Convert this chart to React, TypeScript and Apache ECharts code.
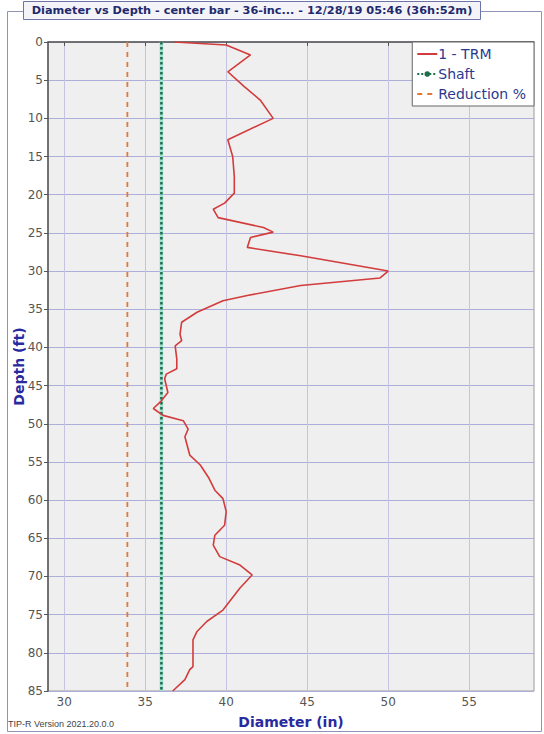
import React, { useEffect, useRef } from 'react';
import * as echarts from 'echarts';

const titleText = 'Diameter vs Depth - center bar - 36-inc... - 12/28/19 05:46 (36h:52m)';
const versionText = 'TIP-R Version 2021.20.0.0';
const seriesNames = ['1 - TRM', 'Shaft', 'Reduction %'];

const depthTicks = [0, 5, 10, 15, 20, 25, 30, 35, 40, 45, 50, 55, 60, 65, 70, 75, 80, 85];
const diameterTicks = [30, 35, 40, 45, 50, 55];
const depthRange = [0, 85];
const diameterRange = [29, 59];

const trmDepth = [0, 0.4, 1.7, 3.9, 5.8, 7.6, 10.0, 12.8, 15.0, 17.6, 19.8, 21.1, 21.9, 23.0, 24.3, 24.9, 25.6, 26.9, 28.0, 30.0, 30.9, 31.9, 33.2, 33.9, 35.4, 36.7, 38.3, 39.1, 39.8, 41.5, 42.8, 43.5, 44.1, 45.9, 47.0, 48.0, 48.9, 49.6, 50.7, 51.7, 54.1, 55.4, 57.0, 58.7, 59.8, 61.5, 63.3, 64.6, 65.9, 67.4, 68.5, 69.8, 71.5, 74.4, 75.9, 77.2, 78.3, 81.8, 82.2, 83.5, 85];
const trmDiameter = [36.8, 40.0, 41.5, 40.1, 41.1, 42.1, 42.9, 40.1, 40.4, 40.5, 40.5, 39.9, 39.2, 39.5, 42.3, 42.9, 41.5, 41.3, 44.6, 50.0, 49.5, 44.6, 41.3, 39.8, 38.2, 37.25, 37.15, 37.25, 36.85, 36.95, 36.95, 36.3, 36.2, 36.4, 36.0, 35.5, 36.1, 37.35, 37.65, 37.45, 37.75, 38.4, 38.9, 39.3, 39.8, 40.0, 39.9, 39.3, 39.2, 39.6, 40.85, 41.6, 40.85, 39.8, 38.8, 38.2, 37.95, 37.95, 37.75, 37.45, 36.7];

const shaftDiameter = [36.0, 36.0];
const reductionDiameter = [33.9, 33.9];
const verticalDepths = [0, 85];

export default function App() {
  const ref = useRef<HTMLDivElement>(null);
  useEffect(() => {
    if (!ref.current) return;
    const chart = echarts.init(ref.current, null, { renderer: 'svg' });
    const font = 'DejaVu Sans';
    const option: any = {
      animation: false,
      backgroundColor: '#ffffff',
      textStyle: { fontFamily: font },
      grid: {
        left: 48, right: 10, top: 42, bottom: 41,
        show: true, backgroundColor: '#efefef', borderColor: '#9a9a9a', borderWidth: 1,
      },
      legend: {
        data: [
          { name: seriesNames[0], itemStyle: { opacity: 0 } },
          { name: seriesNames[1] },
          { name: seriesNames[2], itemStyle: { opacity: 0 } },
        ],
        orient: 'vertical',
        right: 10, top: 42,
        itemWidth: 20, itemHeight: 7, itemGap: 6,
        padding: [5, 8, 5, 4],
        backgroundColor: '#ffffff', borderColor: '#666666', borderWidth: 1,
        textStyle: { color: '#2b3a8f', fontSize: 14, fontFamily: font, padding: [0, 0, 0, -4] },
      },
      xAxis: {
        type: 'value',
        min: diameterRange[0], max: diameterRange[1],
        name: 'Diameter (in)', nameLocation: 'middle', nameGap: 24,
        nameTextStyle: { color: '#2a2aa0', fontSize: 14, fontWeight: 'bold', fontFamily: font },
        axisLine: { show: true, lineStyle: { color: '#555', width: 1.5 } },
        axisTick: { show: true, length: 4, customValues: diameterTicks, lineStyle: { color: '#555' } },
        axisLabel: { customValues: diameterTicks, color: '#555', fontSize: 12, margin: 5 },
        splitLine: { show: true, lineStyle: { color: '#c4c4e2', width: 1 } },
      },
      yAxis: {
        type: 'value', inverse: true,
        min: depthRange[0], max: depthRange[1], interval: 5,
        name: 'Depth (ft)', nameLocation: 'middle', nameGap: 22, nameRotate: 90, nameMoveOverlap: false,
        nameTextStyle: { color: '#2a2aa0', fontSize: 14, fontWeight: 'bold', fontFamily: font },
        axisLine: { show: true, lineStyle: { color: '#555', width: 1.5 } },
        axisTick: { show: true, length: 4, lineStyle: { color: '#555' } },
        axisLabel: { color: '#555', fontSize: 12, margin: 5,
          formatter: (v: number) => (depthTicks.includes(v) ? String(v) : '') },
        splitLine: { show: true, lineStyle: { color: '#aeaedb', width: 1.2 } },
      },
      graphic: [
        { type: 'rect', z: -10, silent: true, shape: { x: 7.5, y: 11.5, width: 534, height: 720 },
          style: { fill: 'none', stroke: '#8e93b8', lineWidth: 1 } },
        { type: 'rect', z: 10, silent: true, shape: { x: 23.5, y: 1.5, width: 457, height: 18 },
          style: { fill: '#f4f4f8', stroke: '#6c74a8', lineWidth: 1 } },
        { type: 'text', z: 11, silent: true, x: 252, y: 10.5,
          style: { text: titleText, fill: '#1f2a6e', font: 'bold 11.3px "DejaVu Sans"', align: 'center', verticalAlign: 'middle' } },
        { type: 'text', z: 11, silent: true, x: 8, y: 724,
          style: { text: versionText, fill: '#444', font: '9px "Liberation Sans"', align: 'left', verticalAlign: 'middle' } },
      ],
      series: [
        {
          name: 'shaftHalo', type: 'line', silent: true, symbol: 'none', z: 1,
          data: verticalDepths.map((d, i) => [shaftDiameter[i], d]),
          lineStyle: { color: '#a3ded2', width: 3.5 },
        },
        {
          name: '1 - TRM', type: 'line', symbol: 'none', z: 4,
          data: trmDepth.map((d, i) => [trmDiameter[i], d]),
          color: '#d23c3c',
          lineStyle: { color: '#d23c3c', width: 1.6 },
        },
        {
          name: 'Shaft', type: 'line', symbol: 'circle', symbolSize: 5, showSymbol: false, z: 3,
          data: verticalDepths.map((d, i) => [shaftDiameter[i], d]),
          color: '#1b6e4a',
          itemStyle: { color: '#1b6e4a' },
          lineStyle: { color: '#1b6e4a', width: 2.5, type: 'dotted' },
        },
        {
          name: 'Reduction %', type: 'line', symbol: 'none', z: 3,
          data: verticalDepths.map((d, i) => [reductionDiameter[i], d]),
          color: '#e2793a',
          lineStyle: { color: '#e2793a', width: 1.8, type: [5, 5] },
        },
      ],
    };
    chart.setOption(option);
    return () => chart.dispose();
  }, []);
  return <div ref={ref} style={{ position: 'fixed', left: 0, top: 0, width: 544, height: 734 }} />;
}
